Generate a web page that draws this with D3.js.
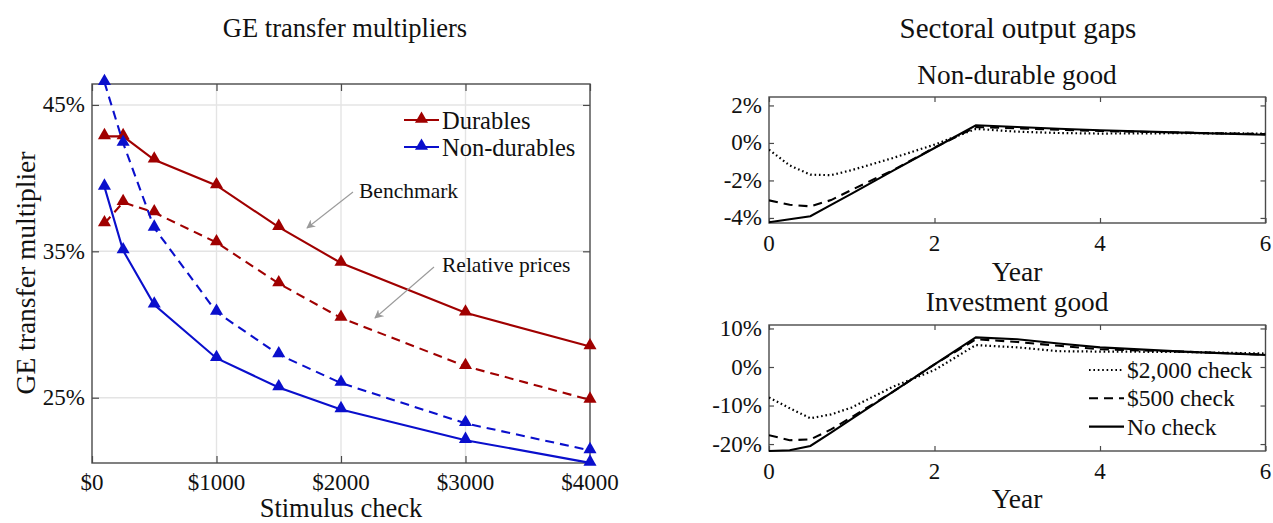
<!DOCTYPE html>
<html>
<head>
<meta charset="utf-8">
<script src="https://cdn.jsdelivr.net/npm/d3@7"></script>
<style>
  html, body { margin: 0; padding: 0; background: #fff; }
  svg { display: block; font-family: "Liberation Serif", "Times New Roman", serif; }
</style>
</head>
<body>
<svg id="fig" width="1273" height="523"></svg>
<script>
// ---- Left panel: GE transfer multipliers by check size ----
const checkSizes = [100, 250, 500, 1000, 1500, 2000, 3000, 4000];
const durablesBenchmark = [42.85, 42.85, 41.25, 39.5, 36.65, 34.2, 30.8, 28.5];
const durablesRelPrices = [36.9, 38.35, 37.65, 35.6, 32.8, 30.45, 27.15, 24.85];
const nondurBenchmark = [39.4, 35.05, 31.35, 27.7, 25.7, 24.2, 22.1, 20.55];
const nondurRelPrices = [46.55, 42.4, 36.6, 30.85, 27.95, 26.0, 23.25, 21.4];
const checkTicks = [0, 1000, 2000, 3000, 4000];
const multTicks = [25, 35, 45];

// ---- Right panels: sectoral output gaps over time ----
const years = [0, 0.25, 0.5, 0.75, 1, 1.5, 2, 2.5, 3, 3.5, 4, 5, 6];
const nondurNoCheck = [-4.23, -4.07, -3.91, -3.3, -2.7, -1.48, -0.27, 0.94, 0.85, 0.76, 0.68, 0.55, 0.44];
const nondur500 = [-3.06, -3.3, -3.38, -3.05, -2.5, -1.45, -0.25, 0.85, 0.78, 0.7, 0.64, 0.55, 0.47];
const nondur2000 = [-0.36, -1.2, -1.69, -1.72, -1.45, -0.8, -0.09, 0.75, 0.6, 0.53, 0.5, 0.52, 0.5];
const invNoCheck = [-21.8, -21.6, -20.5, -17.0, -13.45, -6.4, 0.65, 7.7, 7.2, 6.1, 5.1, 4.0, 3.1];
const inv500 = [-17.7, -19.0, -18.8, -16.2, -13.0, -6.4, 0.7, 7.2, 6.5, 5.5, 4.6, 4.0, 3.2];
const inv2000 = [-7.9, -10.7, -13.3, -12.3, -10.5, -5.1, -0.8, 5.7, 5.1, 4.1, 4.0, 3.9, 3.5];
const yearTicks = [0, 2, 4, 6];
const nondurTicks = [-4, -2, 0, 2];
const invTicks = [-20, -10, 0, 10];

const RED = "#a00000";
const BLUE = "#0a0fcc";
const AXIS = "#4a4a4a";
const GRID = "#e4e4e4";
const DASH = "9,6";
const DOT = "1.6,2.8";

const svg = d3.select("#fig");

function text(x, y, str, size, anchor, extra) {
  const t = svg.append("text")
    .attr("x", x).attr("y", y)
    .attr("font-size", size)
    .attr("text-anchor", anchor || "middle")
    .attr("dominant-baseline", "central")
    .attr("fill", "#111")
    .text(str);
  if (extra) extra(t);
  return t;
}

// Draws box + inward ticks on all four sides, returns the plot group
function frame(x, y, xTicks, yTicks, opts) {
  const [x0, x1] = x.range();
  const [y1, y0] = y.range();
  const g = svg.append("g");
  if (opts.grid) {
    g.selectAll(".gx").data(xTicks.filter(d => x(d) > x0 + 1 && x(d) < x1 - 1)).join("line")
      .attr("x1", d => x(d)).attr("x2", d => x(d)).attr("y1", y0).attr("y2", y1)
      .attr("stroke", GRID).attr("stroke-width", 1.4);
    g.selectAll(".gy").data(yTicks).join("line")
      .attr("x1", x0).attr("x2", x1).attr("y1", d => y(d)).attr("y2", d => y(d))
      .attr("stroke", GRID).attr("stroke-width", 1.4);
  }
  const tl = opts.tick;
  const axes = [
    [d3.axisBottom(x), y1, 0, xTicks],
    [d3.axisTop(x), y0, 0, xTicks],
    [d3.axisLeft(y), 0, x0, yTicks],
    [d3.axisRight(y), 0, x1, yTicks]
  ];
  axes.forEach(([ax, ty, tx, ticks]) => {
    const a = svg.append("g")
      .attr("transform", `translate(${tx},${ty})`)
      .call(ax.tickValues(ticks).tickSizeInner(-tl).tickSizeOuter(0).tickFormat(""));
    a.select(".domain").remove();
    a.selectAll("line").attr("stroke", AXIS).attr("stroke-width", 1.2);
  });
  svg.append("rect")
    .attr("x", x0).attr("y", y0).attr("width", x1 - x0).attr("height", y1 - y0)
    .attr("fill", "none").attr("stroke", AXIS).attr("stroke-width", 1.4);
  // tick labels
  xTicks.forEach(d => text(x(d), y1 + opts.xLabOff, opts.xFmt(d), opts.tickFont));
  yTicks.forEach(d => text(x0 - 7, y(d), opts.yFmt(d), opts.tickFont, "end"));
  return g;
}

// ---------------- Left panel ----------------
const xL = d3.scaleLinear().domain([0, 4000]).range([92, 590]);
const yL = d3.scaleLinear().domain([20.54, 46.43]).range([463, 84]);

frame(xL, yL, checkTicks, multTicks, {
  grid: true, tick: 7, xLabOff: 19, tickFont: 23,
  xFmt: d => "$" + d, yFmt: d => d + "%"
});

const lineL = d3.line().x(d => xL(d[0])).y(d => yL(d[1]));
const tri = d3.symbol().type(d3.symbolTriangle).size(74);

const leftSeries = [
  { vals: durablesBenchmark, color: RED, dash: null },
  { vals: durablesRelPrices, color: RED, dash: DASH },
  { vals: nondurBenchmark, color: BLUE, dash: null },
  { vals: nondurRelPrices, color: BLUE, dash: DASH }
];
leftSeries.forEach(s => {
  const pts = checkSizes.map((c, i) => [c, s.vals[i]]);
  svg.append("path").attr("d", lineL(pts))
    .attr("fill", "none").attr("stroke", s.color).attr("stroke-width", 2.1)
    .attr("stroke-dasharray", s.dash);
  svg.append("g").selectAll("path").data(pts).join("path")
    .attr("d", tri)
    .attr("transform", d => `translate(${xL(d[0])},${yL(d[1]) - 1})`)
    .attr("fill", s.color);
});

// legend
[["Durables", RED, 120], ["Non-durables", BLUE, 147]].forEach(([lab, col, ly]) => {
  svg.append("line").attr("x1", 404).attr("x2", 439).attr("y1", ly).attr("y2", ly)
    .attr("stroke", col).attr("stroke-width", 2.1);
  svg.append("path").attr("d", tri).attr("transform", `translate(421.5,${ly - 1})`).attr("fill", col);
  text(442, ly, lab, 24.5, "start");
});

// annotations
svg.append("defs").append("marker")
  .attr("id", "arrow").attr("viewBox", "0 0 10 10").attr("refX", 9).attr("refY", 5)
  .attr("markerWidth", 9).attr("markerHeight", 9).attr("markerUnits", "userSpaceOnUse")
  .attr("orient", "auto")
  .append("path").attr("d", "M0,0 L10,5 L0,10 L3,5 Z").attr("fill", "#9a9a9a");

function annotate(label, tx, ty, ax0, ay0, ax1, ay1) {
  svg.append("line").attr("x1", ax0).attr("y1", ay0).attr("x2", ax1).attr("y2", ay1)
    .attr("stroke", "#9a9a9a").attr("stroke-width", 1.1).attr("marker-end", "url(#arrow)");
  text(tx, ty, label, 21.5, "start");
}
annotate("Benchmark", 359, 191, 353, 192, 307, 228);
annotate("Relative prices", 442, 265, 434, 267, 375, 318);

// axis labels and title
text((92 + 590) / 2, 508, "Stimulus check", 26.5);
text(345, 28, "GE transfer multipliers", 26.5);
text(25, 273, "GE transfer multiplier", 27.5, "middle", t => t.attr("transform", "rotate(-90,25,273)"));

// ---------------- Right panels ----------------
const xR = d3.scaleLinear().domain([0, 6]).range([769, 1265.5]);
const lineStyles = [
  { key: "c2000", dash: DOT, label: "$2,000 check" },
  { key: "c500", dash: DASH, label: "$500 check" },
  { key: "none", dash: null, label: "No check" }
];

function panel(yDomain, yRange, ticks, series, title, titleY, yearY) {
  const y = d3.scaleLinear().domain(yDomain).range(yRange);
  frame(xR, y, yearTicks, ticks, {
    grid: false, tick: 5, xLabOff: 20, tickFont: 23,
    xFmt: d => String(d), yFmt: d => d + "%"
  });
  const line = d3.line().x(d => xR(d[0])).y(d => y(d[1]));
  const clipId = "clip" + titleY;
  svg.append("clipPath").attr("id", clipId).append("rect")
    .attr("x", xR.range()[0]).attr("y", yRange[1] - 2)
    .attr("width", xR.range()[1] - xR.range()[0]).attr("height", yRange[0] - yRange[1] + 4);
  const g = svg.append("g").attr("clip-path", `url(#${clipId})`);
  lineStyles.forEach(st => {
    const vals = series[st.key];
    g.append("path").attr("d", line(years.map((t, i) => [t, vals[i]])))
      .attr("fill", "none").attr("stroke", "#000")
      .attr("stroke-width", st.dash === DOT ? 2.2 : 2.1)
      .attr("stroke-dasharray", st.dash);
  });
  text(1017, titleY, title, 27.3);
  text(1017, yearY, "Year", 27.5);
}

panel([-4.27, 2.45], [223, 97], nondurTicks,
  { none: nondurNoCheck, c500: nondur500, c2000: nondur2000 },
  "Non-durable good", 75, 271);
panel([-21.8, 10.9], [451, 325], invTicks,
  { none: invNoCheck, c500: inv500, c2000: inv2000 },
  "Investment good", 302, 498);

// legend for the investment panel
lineStyles.forEach((st, i) => {
  const ly = 370 + i * 28.3;
  svg.append("line").attr("x1", 1089).attr("x2", 1124).attr("y1", ly).attr("y2", ly)
    .attr("stroke", "#000").attr("stroke-width", st.dash === DOT ? 2.2 : 2.1)
    .attr("stroke-dasharray", st.dash);
  text(1127, ly, st.label, 23.5, "start");
});

text(1018, 28, "Sectoral output gaps", 29);
</script>
</body>
</html>
